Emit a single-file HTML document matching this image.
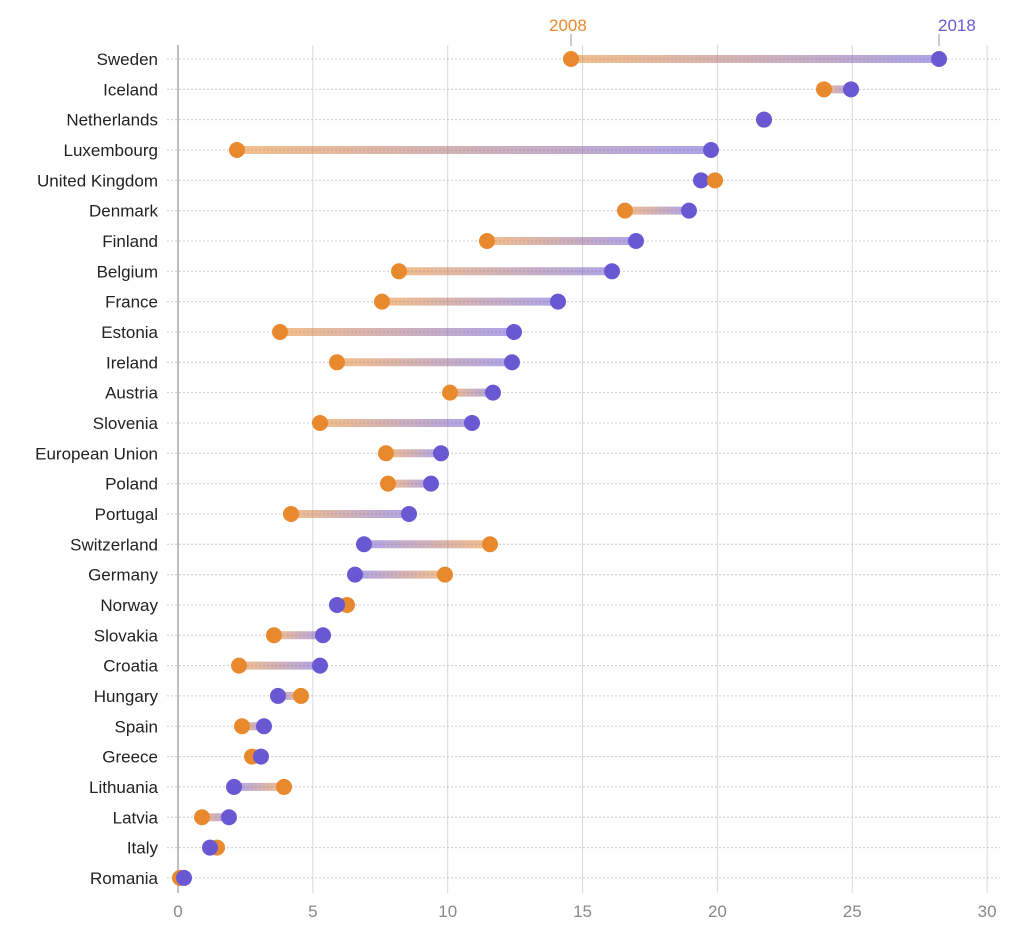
<!DOCTYPE html>
<html><head><meta charset="utf-8"><style>
html,body{margin:0;padding:0;background:#fff}
svg{display:block}
text{font-family:"Liberation Sans",sans-serif}
</style></head><body>
<svg id="s" width="1024" height="933" xmlns="http://www.w3.org/2000/svg"></svg>
<script>
const rows=[["Sweden",571,939],["Iceland",824,851],["Netherlands",764,764],["Luxembourg",237,711],["United Kingdom",715,701],["Denmark",625,689],["Finland",487,636],["Belgium",399,612],["France",382,558],["Estonia",280,514],["Ireland",337,512],["Austria",450,493],["Slovenia",320,472],["European Union",386,441],["Poland",388,431],["Portugal",291,409],["Switzerland",490,364],["Germany",445,355],["Norway",347,337],["Slovakia",274,323],["Croatia",239,320],["Hungary",301,278],["Spain",242,264],["Greece",252,261],["Lithuania",284,234],["Latvia",202,229],["Italy",217,210],["Romania",180,184]];
const O="#E8892D",P="#6A58D3";
let h='<defs>';
rows.forEach((r,i)=>{h+=`<linearGradient id="g${i}" gradientUnits="userSpaceOnUse" x1="${r[1]}" y1="0" x2="${r[2]}" y2="0"><stop offset="0" stop-color="${O}"/><stop offset="1" stop-color="${P}"/></linearGradient>`});
h+='</defs>';
const x0=178,ux=26.97;
for(let t=0;t<=30;t+=5){const x=x0+t*ux;h+=`<line x1="${x}" y1="45" x2="${x}" y2="893" stroke="${t==0?'#aaa':'#d8d8d8'}" stroke-width="${t==0?1.5:1}"/><text x="${x}" y="917" text-anchor="middle" font-size="17" fill="#888">${t}</text>`}
rows.forEach((r,i)=>{const y=59+i*30.33;
h+=`<line x1="167" y1="${y}" x2="1000" y2="${y}" stroke="#ccc" stroke-dasharray="2,2" stroke-width="1"/>`;
h+=`<text x="158" y="${y+6}" text-anchor="end" font-size="17" fill="#222">${r[0]}</text>`;
h+=`<line x1="${r[1]}" y1="${y}" x2="${r[2]}" y2="${y}" stroke="url(#g${i})" stroke-opacity="0.55" stroke-width="8"/>`;
if(r[0]=="United Kingdom"){h+=`<circle cx="${r[2]}" cy="${y}" r="8" fill="${P}"/><circle cx="${r[1]}" cy="${y}" r="8" fill="${O}"/>`}
else{h+=`<circle cx="${r[1]}" cy="${y}" r="8" fill="${O}"/><circle cx="${r[2]}" cy="${y}" r="8" fill="${P}"/>`}
});
h+=`<line x1="571" y1="34" x2="571" y2="46" stroke="#999" stroke-width="1"/><text x="549" y="31" font-size="17" fill="${O}">2008</text>`;
h+=`<line x1="939" y1="34" x2="939" y2="46" stroke="#999" stroke-width="1"/><text x="938" y="31" font-size="17" fill="${P}">2018</text>`;
document.getElementById('s').innerHTML=h;
</script>
</body></html>
